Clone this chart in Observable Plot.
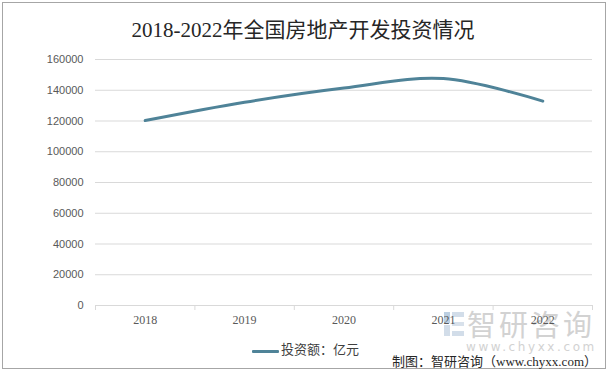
<!DOCTYPE html>
<html><head><meta charset="utf-8">
<script src="https://cdn.jsdelivr.net/npm/d3@7"></script>
<script src="https://cdn.jsdelivr.net/npm/@observablehq/plot@0.6"></script>
<style>
html,body{margin:0;padding:0;background:#fff;}
#wrap{position:relative;width:610px;height:374px;overflow:hidden;font-family:"Noto Sans CJK SC",sans-serif;}
#frame{position:absolute;left:2px;top:2px;width:604px;height:367px;border:1px solid #a6a6a6;box-sizing:border-box;}
#title{position:absolute;left:0;top:16px;width:606px;text-align:center;font-family:"Liberation Serif","Noto Sans CJK SC",serif;font-size:21px;color:#262626;line-height:28px;}
#chart{position:absolute;left:0;top:0;}
#legend{position:absolute;left:252px;top:341px;font-size:13px;color:#404040;line-height:17px;font-family:"Liberation Serif","Noto Sans CJK SC",serif;}
#legend span.sw{display:inline-block;width:27px;height:3px;background:#4f8398;vertical-align:middle;margin-right:2px;border-radius:1px;}
#caption{position:absolute;right:13px;top:354px;font-size:13px;color:#262626;line-height:15px;font-family:"Liberation Serif","Noto Sans CJK SC",serif;}
#wm1{position:absolute;left:467px;top:305px;font-size:29px;color:#d2d2d2;letter-spacing:3px;line-height:36px;}
#wm2{position:absolute;left:466px;top:341px;font-size:12px;color:#d2d2d2;letter-spacing:2.6px;line-height:13px;font-family:"DejaVu Sans",sans-serif;}
#logo{position:absolute;left:444px;top:312px;width:20px;height:24px;}
</style></head>
<body>
<div id="wrap">
  <div id="frame"></div>
  <div id="wm1">智研咨询</div>
  <div id="wm2">www.chyxx.com</div>
  <svg id="logo" viewBox="0 0 20 24"><rect x="0" y="0" width="6" height="11" fill="#bccfe1"/><rect x="0" y="13" width="6" height="11" fill="#d2dde9"/><rect x="8" y="0" width="12" height="5" fill="#d2dde9"/><rect x="8" y="10" width="12" height="4" fill="#d8e1eb"/><rect x="8" y="19" width="12" height="5" fill="#d2dde9"/></svg>
  <div id="chart"></div>
  <div id="title"></div>
  <div id="legend"><span class="sw"></span><span id="legtext"></span></div>
  <div id="caption"></div>
</div>
<script>
const titleText = "2018-2022年全国房地产开发投资情况";
const seriesName = "投资额：亿元";
const captionText = "制图：智研咨询（www.chyxx.com）";
const years = [2018, 2019, 2020, 2021, 2022];
const investment = [120264, 132194, 141443, 147602, 132895];
const yTicks = [0, 20000, 40000, 60000, 80000, 100000, 120000, 140000, 160000];
const bandEdges = [2017.5, 2018.5, 2019.5, 2020.5, 2021.5, 2022.5];

document.getElementById("title").textContent = titleText;
document.getElementById("legtext").textContent = seriesName;
document.getElementById("caption").textContent = captionText;

const data = years.map((y, i) => ({year: y, value: investment[i]}));

const chart = Plot.plot({
  width: 610,
  height: 374,
  marginLeft: 95,
  marginRight: 18,
  marginTop: 59,
  marginBottom: 69,
  style: {background: "transparent", overflow: "visible"},
  x: {type: "linear", domain: [2017.5, 2022.5]},
  y: {domain: [0, 160000]},
  marks: [
    Plot.gridY(yTicks.filter(d => d > 0), {stroke: "#d9d9d9", strokeOpacity: 1, strokeWidth: 1}),
    Plot.ruleY([0], {stroke: "#d9d9d9", strokeWidth: 1}),
    Plot.axisY({ticks: yTicks, tickSize: 0, tickPadding: 12, label: null, tickFormat: d => String(d),
      fontSize: 11, fill: "#595959", fontFamily: "Liberation Sans, sans-serif"}),
    Plot.axisX({ticks: bandEdges, tickSize: 5, tickFormat: () => "", label: null, stroke: "#d9d9d9"}),
    Plot.axisX({ticks: years, tickSize: 0, tickPadding: 10, tickFormat: d => String(d), label: null,
      fontSize: 12, fill: "#595959", fontFamily: "Liberation Serif, serif"}),
    Plot.line(data, {x: "year", y: "value", stroke: "#4f8398", strokeWidth: 3, curve: "catmull-rom", strokeLinecap: "round"})
  ]
});
document.getElementById("chart").appendChild(chart);
</script>
</body></html>
